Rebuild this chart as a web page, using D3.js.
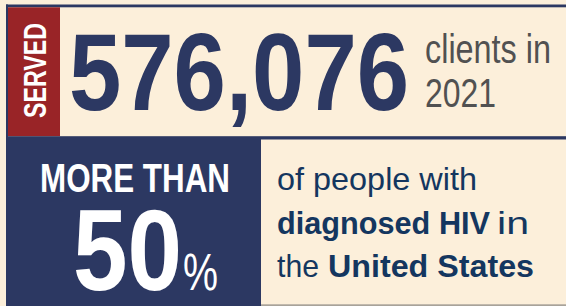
<!DOCTYPE html>
<html>
<head>
<meta charset="utf-8">
<script src="https://cdn.jsdelivr.net/npm/d3@7"></script>
<style>
  html, body { margin: 0; padding: 0; background: #fcefda; }
  svg { display: block; }
</style>
</head>
<body>
<svg id="chart" width="566" height="306"></svg>
<script>
// ---- data ----
const servedLabel = ["SERVED"];
const servedValue = [576076];
const servedYear = [2021];
const clientsLines = ["clients in", "2021"];
const shareLabel = ["MORE THAN"];
const shareValue = [50];
const shareLines = [
  [{t: "of people with", b: false}],
  [{t: "diagnosed HIV", b: true}, {t: "in", b: false}],
  [{t: "the", b: false}, {t: "United States", b: true}]
];

// ---- style ----
const cream = "#fcefda", navy = "#2c3862", red = "#992427", textNavy = "#14365f", grey = "#515151";
const cond = "'Liberation Sans Narrow', 'Liberation Sans', Arial, sans-serif";

const svg = d3.select("#chart");
svg.append("rect").attr("width", 566).attr("height", 306).attr("fill", cream);

// frame pieces
svg.append("rect").attr("x", 6).attr("y", 4.5).attr("width", 560).attr("height", 2.8).attr("fill", navy);
svg.append("rect").attr("x", 6).attr("y", 4.5).attr("width", 2).attr("height", 301.5).attr("fill", navy);
svg.append("rect").attr("x", 8).attr("y", 7.3).attr("width", 52).attr("height", 128.9).attr("fill", red);
svg.append("rect").attr("x", 6).attr("y", 136.2).attr("width", 560).attr("height", 3.3).attr("fill", navy);
svg.append("rect").attr("x", 6).attr("y", 139).attr("width", 255).attr("height", 167).attr("fill", navy);
svg.append("rect").attr("x", 261).attr("y", 304.3).attr("width", 305).attr("height", 1.7).attr("fill", "#a8a39a");

// helper for fitted text
function fit(g, txt, x, y, w, size, weight, color) {
  return g.append("text")
    .attr("x", x).attr("y", y)
    .attr("font-family", cond)
    .attr("font-size", size)
    .attr("font-weight", weight)
    .attr("fill", color)
    .attr("textLength", w)
    .attr("lengthAdjust", "spacingAndGlyphs")
    .text(txt);
}

// SERVED rotated
const sg = svg.append("g").attr("transform", "translate(45.5,118) rotate(-90)");
sg.selectAll("text").data(servedLabel).join("text")
  .attr("x", 0).attr("y", 0)
  .attr("font-family", cond).attr("font-size", 32).attr("font-weight", 700)
  .attr("fill", "#ffffff")
  .attr("textLength", 95).attr("lengthAdjust", "spacingAndGlyphs")
  .text(d => d);

// big number
const fmt = d3.format(",");
svg.selectAll("text.big").data(servedValue).join("text").attr("class", "big")
  .attr("x", 69).attr("y", 109.5)
  .attr("font-family", cond).attr("font-size", 110).attr("font-weight", 700)
  .attr("fill", navy)
  .attr("textLength", 340).attr("lengthAdjust", "spacingAndGlyphs")
  .text(d => fmt(d));

// clients in 2021
const clientsW = [126, 71];
const clientsY = [63, 107];
svg.selectAll("text.cl").data(clientsLines).join("text").attr("class", "cl")
  .attr("x", 425).attr("y", (d, i) => clientsY[i])
  .attr("font-family", cond).attr("font-size", 41).attr("font-weight", 400)
  .attr("fill", grey)
  .attr("textLength", (d, i) => clientsW[i]).attr("lengthAdjust", "spacingAndGlyphs")
  .text(d => d);

// MORE THAN
svg.selectAll("text.mt").data(shareLabel).join("text").attr("class", "mt")
  .attr("x", 40).attr("y", 192)
  .attr("font-family", cond).attr("font-size", 40).attr("font-weight", 700)
  .attr("fill", "#ffffff")
  .attr("textLength", 190).attr("lengthAdjust", "spacingAndGlyphs")
  .text(d => d);

// 50 %
svg.selectAll("text.pct").data(shareValue).join("text").attr("class", "pct")
  .attr("x", 73).attr("y", 290)
  .attr("font-family", cond).attr("font-size", 115).attr("font-weight", 700)
  .attr("fill", "#ffffff")
  .attr("textLength", 109).attr("lengthAdjust", "spacingAndGlyphs")
  .text(d => d);
fit(svg, "%", 183, 290, 35, 51, 400, "#ffffff");

// right text
const segPos = [
  [{x: 277, w: 200}],
  [{x: 277, w: 213}, {x: 497, w: 32}],
  [{x: 277, w: 42}, {x: 328, w: 206}]
];
const lineY = [190, 233.5, 277];
shareLines.forEach((line, li) => {
  line.forEach((seg, si) => {
    fit(svg, seg.t, segPos[li][si].x, lineY[li], segPos[li][si].w, 32, seg.b ? 700 : 400, textNavy);
  });
});
</script>
</body>
</html>
